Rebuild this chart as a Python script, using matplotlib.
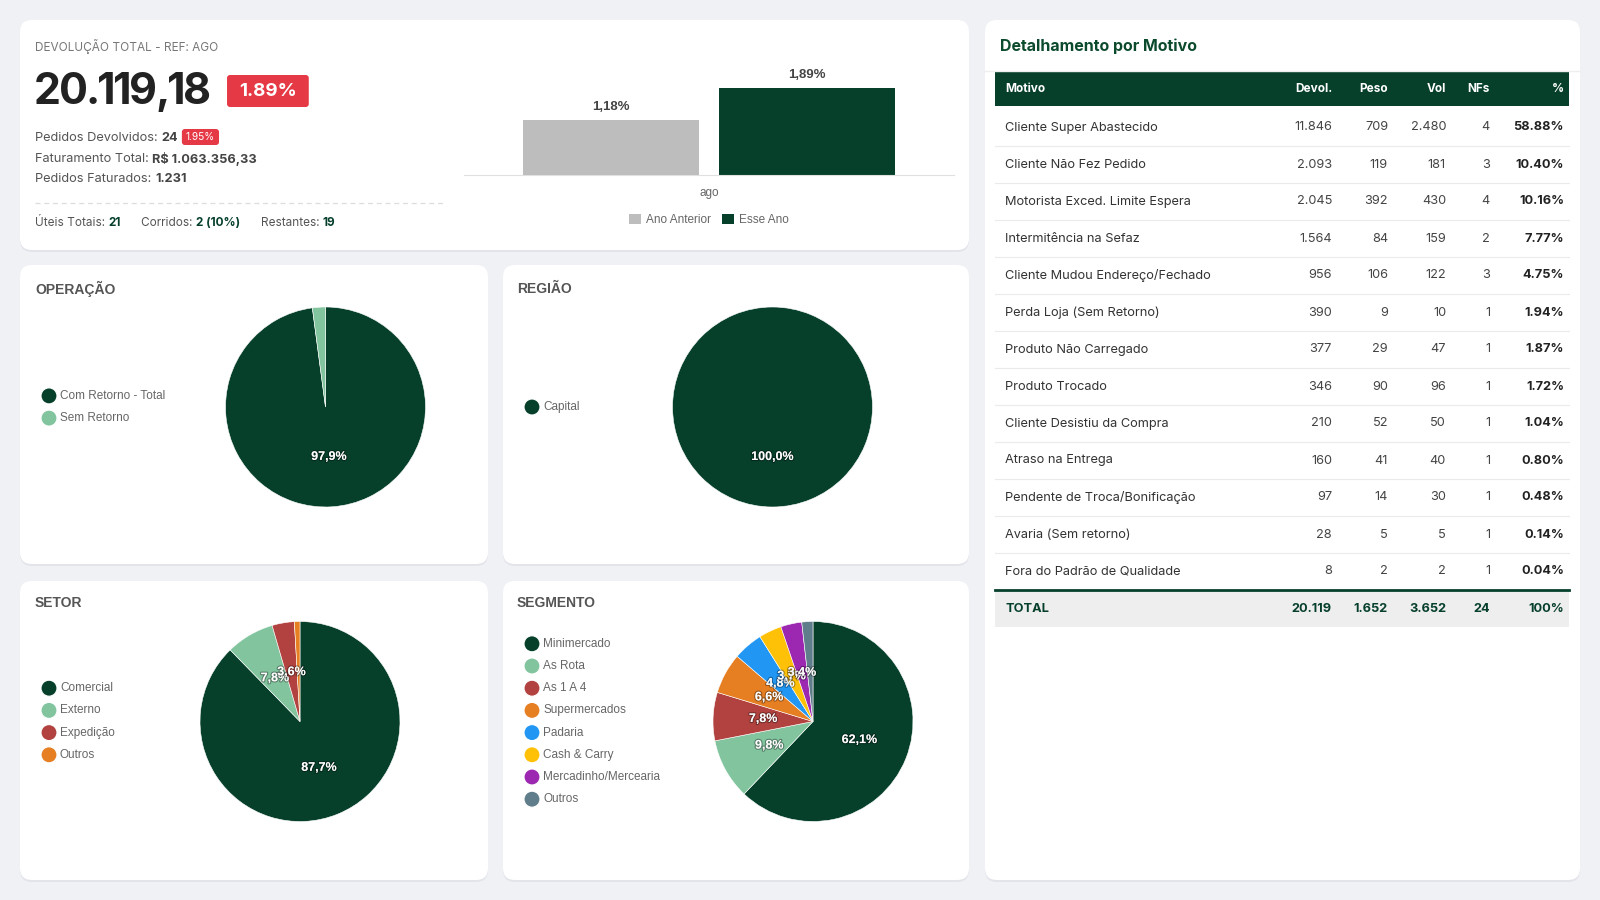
import matplotlib
matplotlib.use('Agg')
import matplotlib.pyplot as plt
from matplotlib.patches import FancyBboxPatch, Circle, Rectangle
import matplotlib.patheffects as pe

# ---- data ----
kpi_title = 'DEVOLUÇÃO TOTAL - REF: AGO'
kpi_value = '20.119,18'
kpi_badge = '1.89%'
ped_devolvidos = '24'
ped_badge = '1.95%'
faturamento = 'R$ 1.063.356,33'
ped_faturados = '1.231'
uteis, corridos, restantes = '21', '2 (10%)', '19'

bar_month = 'ago'
bar_series = ['Ano Anterior', 'Esse Ano']
bar_values = [1.18, 1.89]

op_labels = ['Com Retorno - Total', 'Sem Retorno']
op_values = [97.9, 2.1]
reg_labels = ['Capital']
reg_values = [100.0]
setor_labels = ['Comercial', 'Externo', 'Expedição', 'Outros']
setor_values = [87.7, 7.8, 3.6, 0.9]
seg_labels = ['Minimercado', 'As Rota', 'As 1 A 4', 'Supermercados', 'Padaria',
              'Cash & Carry', 'Mercadinho/Mercearia', 'Outros']
seg_values = [62.1, 9.8, 7.8, 6.6, 4.8, 3.7, 3.4, 1.8]

motivos = ['Cliente Super Abastecido', 'Cliente Não Fez Pedido', 'Motorista Exced. Limite Espera',
           'Intermitência na Sefaz', 'Cliente Mudou Endereço/Fechado', 'Perda Loja (Sem Retorno)',
           'Produto Não Carregado', 'Produto Trocado', 'Cliente Desistiu da Compra',
           'Atraso na Entrega', 'Pendente de Troca/Bonificação', 'Avaria (Sem retorno)',
           'Fora do Padrão de Qualidade']
devol = [11846, 2093, 2045, 1564, 956, 390, 377, 346, 210, 160, 97, 28, 8]
peso = [709, 119, 392, 84, 106, 9, 29, 90, 52, 41, 14, 5, 2]
vol = [2480, 181, 430, 159, 122, 10, 47, 96, 50, 40, 30, 5, 2]
nfs = [4, 3, 4, 2, 3, 1, 1, 1, 1, 1, 1, 1, 1]
pct = [58.88, 10.40, 10.16, 7.77, 4.75, 1.94, 1.87, 1.72, 1.04, 0.80, 0.48, 0.14, 0.04]
totals = ['20.119', '1.652', '3.652', '24', '100%']

# ---- style ----
BG = '#f0f1f5'
GREEN = '#06402b'
LIGHT = '#81c49e'
RED = '#e63946'
pie_colors = [GREEN, LIGHT, '#b1423f', '#e67e22', '#2196f3', '#ffc107', '#9c27b0', '#607d8b']
UI = 'Inter'
CH = 'Liberation Sans'

W, H = 1600, 900
fig = plt.figure(figsize=(16, 9), dpi=100)
fig.patch.set_facecolor(BG)
bg = fig.add_axes([0, 0, 1, 1])
bg.set_xlim(0, W)
bg.set_ylim(H, 0)
bg.axis('off')
rend = fig.canvas.get_renderer()


def px_axes(x0, y0, x1, y1):
    return fig.add_axes([x0 / W, 1 - y1 / H, (x1 - x0) / W, (y1 - y0) / H])


def card(x0, y0, x1, y1):
    sh = FancyBboxPatch((x0, y0 + 2), x1 - x0, y1 - y0, boxstyle='round,pad=0,rounding_size=12',
                        fc='#e3e4ea', ec='none', zorder=0)
    bg.add_patch(sh)
    c = FancyBboxPatch((x0, y0), x1 - x0, y1 - y0, boxstyle='round,pad=0,rounding_size=12',
                       fc='white', ec='none', zorder=1)
    bg.add_patch(c)


def runs(x, y, parts, size, family=UI):
    for s, w, c in parts:
        t = bg.text(x, y, s, fontsize=size, fontweight=w, color=c, family=family,
                    va='center', ha='left', zorder=3)
        x += t.get_window_extent(renderer=rend).width
    return x


def badge(x, y, s, size, padx, h, weight='normal'):
    t = bg.text(x + padx, y, s, fontsize=size, fontweight=weight, color='white', family=UI,
                va='center', ha='left', zorder=4)
    w = t.get_window_extent(renderer=rend).width
    bg.add_patch(FancyBboxPatch((x, y - h / 2), w + 2 * padx, h,
                                boxstyle='round,pad=0,rounding_size=3', fc=RED, ec='none', zorder=3))
    return x + w + 2 * padx


cards = [(20, 20, 969, 250), (985, 20, 1580, 880), (20, 265, 488, 564),
         (503, 265, 969, 564), (20, 581, 488, 880), (503, 581, 969, 880)]
for cd in cards:
    card(*cd)

# ---- KPI card ----
bg.text(35, 46, kpi_title, fontsize=8.5, color='#777777', family=UI, va='center', zorder=3)
# big number with tight tracking
xb = 34
for ch in kpi_value:
    t = bg.text(xb, 92, ch, fontsize=31, fontweight='bold', color='#222222', family=UI,
                va='center', zorder=3)
    xb += t.get_window_extent(renderer=rend).width - 2.4
badge(xb + 18, 91, kpi_badge, 13.5, 12, 32, weight='bold')

xe = runs(35, 138, [('Pedidos Devolvidos: ', 'normal', '#555555'), (ped_devolvidos, 'bold', '#444444')], 9.2)
badge(xe + 4, 137, ped_badge, 7.3, 4, 16)
runs(35, 159, [('Faturamento Total: ', 'normal', '#555555'), (faturamento, 'bold', '#444444')], 9.2)
runs(35, 179.5, [('Pedidos Faturados: ', 'normal', '#555555'), (ped_faturados, 'bold', '#444444')], 9.2)
bg.plot([35, 444], [203, 203], color='#dddddd', lw=0.9, ls=(0, (4, 3)), zorder=3)
runs(35, 222.5, [('Úteis Totais: ', 'normal', '#555555'), (uteis, 'bold', GREEN)], 8.5)
runs(141, 222.5, [('Corridos: ', 'normal', '#555555'), (corridos, 'bold', GREEN)], 8.5)
runs(261, 222.5, [('Restantes: ', 'normal', '#555555'), (restantes, 'bold', GREEN)], 8.5)

# ---- bar chart ----
bax = px_axes(464, 59.8, 954, 174.5)
bax.set_facecolor('none')
offs = [-0.2, 0.2]
bars = bax.bar(offs, bar_values, width=0.36, color=['#bdbdbd', GREEN], label=bar_series)
bax.bar_label(bars, labels=[f'{v:.2f}%'.replace('.', ',') for v in bar_values], padding=5,
              fontsize=9.5, fontweight='bold', color='#444444', family=CH)
bax.set_xlim(-0.5, 0.5)
bax.set_ylim(0, 2.5)
bax.set_xticks([0])
bax.set_xticklabels([bar_month], fontsize=8.5, color='#666666', family=CH)
bax.tick_params(axis='x', length=0, pad=9)
bax.set_yticks([])
for s in ['top', 'left', 'right']:
    bax.spines[s].set_visible(False)
bax.spines['bottom'].set_color('#e0e0e0')
leg = bax.legend(bars, bar_series, loc='center', bbox_to_anchor=(709 / W, 1 - 220 / H),
                 bbox_transform=fig.transFigure, ncol=2, frameon=False, handlelength=1.0,
                 handleheight=1.0, handletextpad=0.4, columnspacing=1.0,
                 prop={'family': CH, 'size': 8.5})
for txt in leg.get_texts():
    txt.set_color('#666666')


# ---- pies ----
def pie_card(title, tx, ty, labels, values, cx, cy, lx, colors):
    bg.text(tx, ty, title, fontsize=10, fontweight='bold', color='#555555', family=CH,
            va='center', zorder=3)
    r = 100
    ax = px_axes(cx - r * 1.03, cy - r * 1.03, cx + r * 1.03, cy + r * 1.03)

    def fmt(p):
        return f'{p:.1f}%'.replace('.', ',') if p > 3 else ''
    wedges, _, autos = ax.pie(values, colors=colors[:len(values)], startangle=90, counterclock=False,
                              autopct=fmt, pctdistance=0.5, radius=1,
                              wedgeprops=dict(edgecolor='white', linewidth=0.4))
    for a in autos:
        a.set_color('white')
        a.set_fontsize(9)
        a.set_fontweight('bold')
        a.set_family(CH)
        a.set_path_effects([pe.withStroke(linewidth=1.6, foreground=(0, 0, 0, 0.35))])
    ax.set_xlim(-1.03, 1.03)
    ax.set_ylim(-1.03, 1.03)
    ax.set_aspect('equal')
    ax.axis('off')
    n = len(labels)
    step = 22.2
    for i, (lab, col) in enumerate(zip(labels, colors)):
        y = cy + (i - (n - 1) / 2) * step
        bg.add_patch(Circle((lx, y), 8, fc=col, ec='white', lw=0.8, zorder=3))
        bg.text(lx + 11, y, lab, fontsize=8.5, color='#666666', family=CH, va='center', zorder=3)


pie_card('OPERAÇÃO', 35, 289, op_labels, op_values, 325.5, 407, 49, [GREEN, LIGHT])
pie_card('REGIÃO', 517, 289, reg_labels, reg_values, 772.5, 407, 532, [GREEN])
pie_card('SETOR', 35, 603, setor_labels, setor_values, 300, 721.5, 49, [GREEN, LIGHT, '#b1423f', '#e67e22'])
pie_card('SEGMENTO', 517, 603, seg_labels, seg_values, 813, 721.5, 532, pie_colors)

# ---- table card ----
bg.text(1000, 46, 'Detalhamento por Motivo', fontsize=11.5, fontweight='bold', color='#0b4a2c',
        family=UI, va='center', zorder=3)
bg.plot([985, 1580], [70.5, 70.5], color='#eeeeee', lw=1, zorder=3)
bg.add_patch(Rectangle((995, 72), 574, 34, fc=GREEN, ec='none', zorder=2))
col_right = [1332, 1388, 1446, 1490, 1564]
headers = ['Devol.', 'Peso', 'Vol', 'NFs', '%']
bg.text(1005, 89.5, 'Motivo', fontsize=8.5, fontweight='bold', color='white', family=UI,
        va='center', zorder=3)
for h, xr in zip(headers, col_right):
    bg.text(xr, 89.5, h, fontsize=8.5, fontweight='bold', color='white', family=UI,
            va='center', ha='right', zorder=3)

row0, rh = 127.5, 37.0
for i in range(len(motivos)):
    y = row0 + i * rh
    vals = [f'{devol[i]:,}'.replace(',', '.'), f'{peso[i]:,}'.replace(',', '.'),
            f'{vol[i]:,}'.replace(',', '.'), str(nfs[i])]
    bg.text(1005, y, motivos[i], fontsize=9.2, color='#333333', family=UI, va='center', zorder=3)
    for v, xr in zip(vals, col_right[:4]):
        bg.text(xr, y, v, fontsize=9.2, color='#444444', family=UI, va='center', ha='right', zorder=3)
    bg.text(col_right[4], y, f'{pct[i]:.2f}%', fontsize=9.2, fontweight='bold', color='#222222',
            family=UI, va='center', ha='right', zorder=3)
    if i < len(motivos) - 1:
        bg.plot([995, 1569], [y + rh / 2, y + rh / 2], color='#ebebeb', lw=0.8, zorder=2)

ytot = row0 + len(motivos) * rh - rh / 2
bg.add_patch(Rectangle((995, ytot), 574, 37, fc='#eeeeee', ec='none', zorder=2))
bg.plot([995, 1569], [ytot, ytot], color=GREEN, lw=2, zorder=3)
bg.text(1005, ytot + 19.5, 'TOTAL', fontsize=9.2, fontweight='bold', color=GREEN, family=UI,
        va='center', zorder=3)
for v, xr in zip(totals, col_right):
    bg.text(xr, ytot + 19.5, v, fontsize=9.2, fontweight='bold', color=GREEN, family=UI,
            va='center', ha='right', zorder=3)

fig.savefig('out.png', dpi=100, facecolor=BG)
